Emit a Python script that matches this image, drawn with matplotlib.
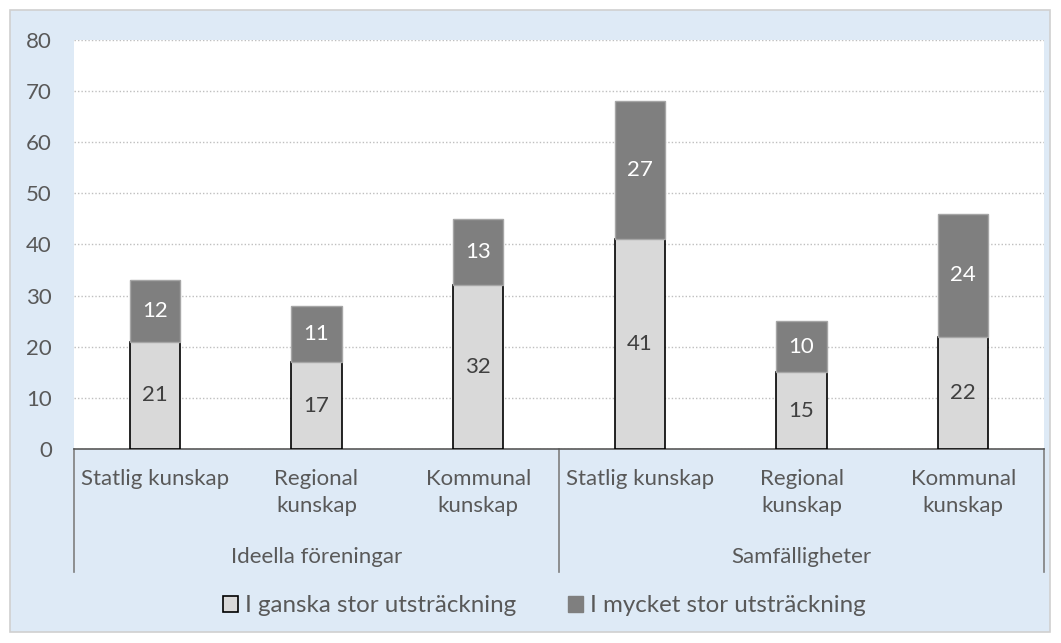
import matplotlib
matplotlib.use("Agg")
import matplotlib.pyplot as plt
from matplotlib.patches import Rectangle, Patch
from matplotlib.lines import Line2D
import numpy as np

categories = ["Statlig kunskap", "Regional\nkunskap", "Kommunal\nkunskap",
              "Statlig kunskap", "Regional\nkunskap", "Kommunal\nkunskap"]
groups = ["Ideella föreningar", "Samfälligheter"]
ganska = [21, 17, 32, 41, 15, 22]
mycket = [12, 11, 13, 27, 10, 24]
series_names = ["I ganska stor utsträckning", "I mycket stor utsträckning"]
yticks = [0, 10, 20, 30, 40, 50, 60, 70, 80]

W, H = 1061, 643
FS = 16
plt.rcParams['font.family'] = ['Lato', 'DejaVu Sans']
fig = plt.figure(figsize=(W / 100, H / 100), dpi=100)
fig.patch.set_facecolor("white")
bg = Rectangle((10 / W, 11 / H), 1040 / W, 622 / H, transform=fig.transFigure,
               facecolor="#DEEAF6", edgecolor="#D0D0D0", lw=1.2, zorder=-5)
fig.add_artist(bg)

ax = fig.add_axes([74 / W, (H - 449) / H, 970 / W, 409 / H])
ax.set_facecolor("white")
x = np.arange(len(categories))
bw = 0.31
tc = "#595959"
ax.bar(x, ganska, bw, color="#D9D9D9", edgecolor="black", lw=1.2, zorder=3)
ax.bar(x, mycket, bw, bottom=ganska, color="#7F7F7F", edgecolor="#A6A6A6", lw=1.0, zorder=3)
for i in range(len(x)):
    ax.text(x[i], ganska[i] / 2, str(ganska[i]), ha="center", va="center", fontsize=FS, color="#404040", zorder=4)
    ax.text(x[i], ganska[i] + mycket[i] / 2, str(mycket[i]), ha="center", va="center", fontsize=FS, color="white", zorder=4)

ax.set_xlim(-0.5, len(x) - 0.5)
ax.set_ylim(0, 80)
ax.set_yticks(yticks)
ax.set_yticklabels([str(v) for v in yticks], fontsize=FS, color=tc)
ax.tick_params(axis="y", length=0, pad=16)
ax.set_xticks([])
ax.yaxis.grid(True, linestyle=(0, (1, 1.5)), color="#BFBFBF", lw=1)
for s in ["top", "right", "left"]:
    ax.spines[s].set_visible(False)
ax.spines["bottom"].set_color("#595959")
ax.spines["bottom"].set_linewidth(1.2)
ax.set_axisbelow(True)

# hierarchical category axis
trans = ax.get_xaxis_transform()
def ypx(p):
    return -(p - 449) / 409.0
for xv in [-0.5, 2.5, 5.5]:
    ax.add_line(Line2D([xv, xv], [0, ypx(572)], transform=trans, color="#7F7F7F", lw=1.2, clip_on=False))
for i, c in enumerate(categories):
    ax.text(x[i], ypx(469), c, transform=trans, ha="center", va="top", fontsize=FS,
            color=tc, linespacing=1.45)
for g, name in enumerate(groups):
    ax.text(g * 3 + 1, ypx(557), name, transform=trans, ha="center", va="center", fontsize=FS, color=tc)

handles = [Patch(facecolor="#D9D9D9", edgecolor="black", lw=1.2),
           Patch(facecolor="#7F7F7F", edgecolor="#7F7F7F", lw=1.0)]
leg = fig.legend(handles, series_names, loc="center", bbox_to_anchor=(0.513, 1 - 606 / H), ncol=2,
                 frameon=False, fontsize=17.4, handlelength=0.62, handleheight=0.62,
                 handletextpad=0.29, columnspacing=2.15)
for t in leg.get_texts():
    t.set_color(tc)

fig.savefig("out.png", dpi=100)
